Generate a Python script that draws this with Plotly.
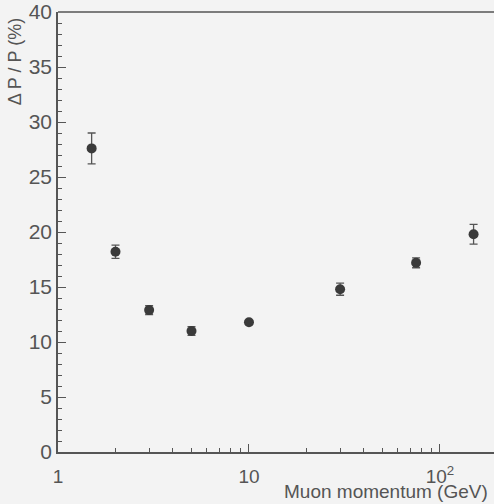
import plotly.graph_objects as go

momentum = [1.5, 2.0, 3.0, 5.0, 10.0, 30.0, 75.0, 150.0]
resolution = [27.6, 18.2, 12.9, 11.0, 11.8, 14.8, 17.2, 19.8]
err = [1.4, 0.6, 0.4, 0.4, 0.1, 0.55, 0.45, 0.9]

x_tickvals = [1, 10, 100]
x_ticktext = ["1", "10", "10<sup>2</sup>"]
x_minor = [2, 3, 4, 5, 6, 7, 8, 9, 20, 30, 40, 50, 60, 70, 80, 90]

ink = "#555555"
fig = go.Figure()
fig.add_trace(go.Scatter(
    x=momentum, y=resolution, mode="markers",
    marker=dict(size=10, color="#3a3a3a"),
    error_y=dict(type="data", array=err, color="#555555", thickness=1.3, width=4),
    showlegend=False, cliponaxis=False,
))

fig.update_layout(
    width=494, height=504,
    margin=dict(l=58, r=0, t=12, b=52),
    paper_bgcolor="#f3f3f3", plot_bgcolor="#f3f3f3",
    font=dict(family="Liberation Sans, Arial, sans-serif", color=ink),
    xaxis=dict(
        type="log", range=[0, 2.283],
        tickvals=x_tickvals, ticktext=x_ticktext,
        ticks="inside", ticklen=8, tickwidth=1.2, tickcolor=ink,
        minor=dict(tickvals=x_minor, ticks="inside", ticklen=4, tickcolor=ink, tickwidth=1),
        showline=True, linecolor=ink, linewidth=1.5, mirror=False,
        showgrid=False, zeroline=False, ticklabelstandoff=6,
        tickfont=dict(size=19, color=ink),
    ),
    yaxis=dict(
        range=[0, 40], tickvals=list(range(0, 41, 5)),
        ticks="inside", ticklen=8, tickwidth=1.2, tickcolor=ink,
        minor=dict(dtick=1, ticks="inside", ticklen=4, tickcolor=ink, tickwidth=1,
                   showgrid=False),
        showline=True, linecolor=ink, linewidth=1.5,
        showgrid=False, zeroline=False,
        tickfont=dict(size=21, color=ink),
    ),
    shapes=[dict(type="line", xref="paper", yref="paper", x0=0, x1=1, y0=1, y1=1,
                 line=dict(color=ink, width=1.5))],
    annotations=[
        dict(text="Δ P / P (%)", textangle=-90, xref="paper", yref="paper",
             x=-0.098, y=0.99, xanchor="center", yanchor="top", showarrow=False,
             font=dict(size=18, color=ink)),
        dict(text="Muon momentum (GeV)", xref="paper", yref="paper",
             x=0.991, y=-0.089, xanchor="right", yanchor="middle", showarrow=False,
             font=dict(size=19, color=ink)),
    ],
)

fig.write_html(
    "out.html",
    config=dict(displayModeBar=False),
    post_script="document.documentElement.style.overflow='hidden';"
                "document.body.style.overflow='hidden';document.body.style.margin='0';",
)
